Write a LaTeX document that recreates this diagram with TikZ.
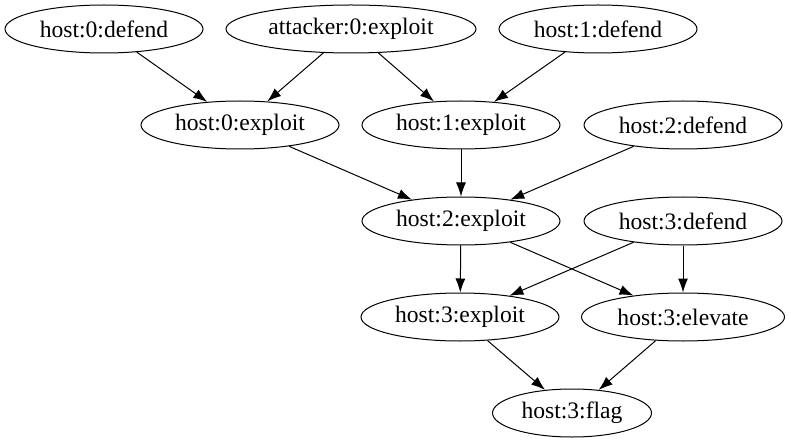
\documentclass[tikz,border=0pt]{standalone}
\usepackage{fontspec}
\setmainfont{Liberation Serif}
\usetikzlibrary{shapes.geometric}
\usetikzlibrary{arrows.meta}

\begin{document}
\begin{tikzpicture}[x=0.5pt,y=-0.5pt,
	state/.style={draw,ellipse,line width=0.5pt,inner sep=0pt,minimum width=99pt,minimum height=24pt,font=\fontsize{11.8}{14}\selectfont},
	edge/.style={-{Latex[length=7pt,width=5pt]},line width=0.5pt}]
	\useasboundingbox (0,0) rectangle (791,443);
		 	% first row
		 	\node[state] (h0d) at (104,29) {host:0:defend};
		 	\node[state,minimum width=125pt] (a0e) at (351,29) {attacker:0:exploit};
		 	\node[state] (h1d) at (598,29) {host:1:defend};
		 	% second row
		 	\node[state] (h0e) at (240,125) {host:0:exploit};
		 	\node[state] (h1e) at (461,125) {host:1:exploit};
		 	\node[state] (h2d) at (683,125) {host:2:defend};
		 	% third row
		 	\node[state] (h2e) at (461,221) {host:2:exploit};
		 	\node[state] (h3d) at (683,221) {host:3:defend};
		 	% fourth row
		 	\node[state] (h3e) at (460,317) {host:3:exploit};
		 	\node[state,minimum width=101.5pt] (h3v) at (683,317) {host:3:elevate};
		 	% goal
		 	\node[state,minimum width=79.5pt] (h3f) at (572,413) {host:3:flag};
	        \draw[edge] (h0d) -- (h0e);
	        \draw[edge] (a0e) -- (h0e);
	        \draw[edge] (a0e) -- (h1e);
	        \draw[edge] (h1d) -- (h1e);
	        \draw[edge] (h0e) -- (h2e);
	        \draw[edge] (h1e) -- (h2e);
	        \draw[edge] (h2d) -- (h2e);
	        \draw[edge] (h2e) -- (h3e);
	        \draw[edge] (h2e) -- (h3v);
	        \draw[edge] (h3d) -- (h3e);
	        \draw[edge] (h3d) -- (h3v);
	        \draw[edge] (h3e) -- (h3f);
	        \draw[edge] (h3v) -- (h3f);
\end{tikzpicture}
\end{document}
